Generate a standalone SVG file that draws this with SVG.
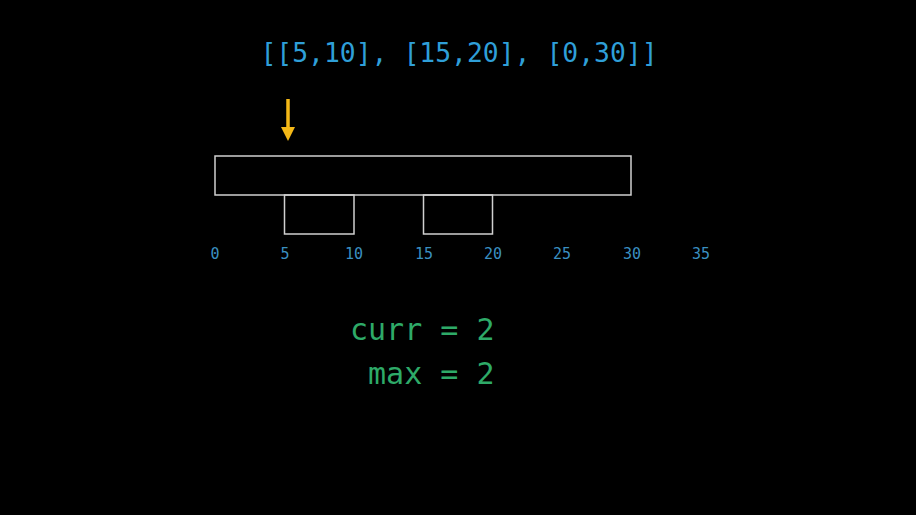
<svg xmlns="http://www.w3.org/2000/svg" width="916" height="515" viewBox="0 0 916 515">
<style>
.box{fill:none;stroke:#d0d0d0;stroke-width:1.5}
.mono{font-family:"DejaVu Sans Mono","Liberation Mono",monospace}
.tick{font-size:15px;fill:#3a8fc0;text-anchor:middle}
.green{font-size:30px;fill:#2eaa68}
</style>
<defs>
<marker id="ah" markerWidth="4" markerHeight="4" refX="2" refY="2" orient="auto" markerUnits="strokeWidth"><path d="M0,0 L4,2 L0,4 Z" fill="#f4b817"/></marker>
</defs>
<rect width="916" height="515" fill="#000"/>
<text id="title" class="mono" x="459" y="62" font-size="26.4" fill="#2f9fd8" text-anchor="middle">[[5,10], [15,20], [0,30]]</text>
<g id="connectors">
<line x1="288" y1="99" x2="288" y2="134" stroke="#f4b817" stroke-width="3.5" marker-end="url(#ah)"/>
</g>
<g id="interval-0-30"><rect class="box" x="215" y="156" width="416" height="39"/></g>
<g id="interval-5-10"><rect class="box" x="284.5" y="195" width="69.5" height="39"/></g>
<g id="interval-15-20"><rect class="box" x="423.5" y="195" width="69" height="39"/></g>
<g id="axis" class="mono tick">
<text x="215" y="259">0</text>
<text x="285" y="259">5</text>
<text x="354" y="259">10</text>
<text x="424" y="259">15</text>
<text x="493" y="259">20</text>
<text x="562" y="259">25</text>
<text x="632" y="259">30</text>
<text x="701" y="259">35</text>
</g>
<g id="vars" class="mono green">
<text x="350" y="340" xml:space="preserve">curr = 2</text>
<text x="350" y="384" xml:space="preserve"> max = 2</text>
</g>
</svg>
